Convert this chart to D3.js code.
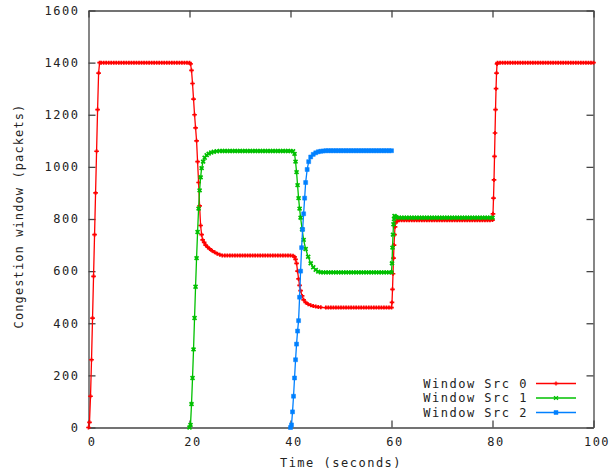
<!DOCTYPE html>
<html>
<head>
<meta charset="utf-8">
<script src="https://cdn.jsdelivr.net/npm/d3@7"></script>
<style>
  body { margin: 0; background: #fff; }
  svg { display: block; }
</style>
</head>
<body>
<svg id="chart"></svg>
<script>
var w = 616;
var h = 474;

var xTicks = [0, 20, 40, 60, 80, 100];
var yTicks = [0, 200, 400, 600, 800, 1000, 1200, 1400, 1600];
var seriesNames = ['Window Src 0', 'Window Src 1', 'Window Src 2'];
var colors = ['#ff0000', '#00c000', '#0080ff'];

// [time (s), congestion window (packets)]
var src0 = [
  [0,0],[0.2,20],[0.4,120],[0.6,260],[0.8,420],[1.0,580],[1.2,740],[1.4,900],[1.6,1060],[1.8,1220],[2.0,1360],[2.2,1400],
  [2.5,1400],[3,1400],[3.5,1400],[4,1400],[4.5,1400],[5,1400],[5.5,1400],[6,1400],[6.5,1400],[7,1400],
  [7.5,1400],[8,1400],[8.5,1400],[9,1400],[9.5,1400],[10,1400],[10.5,1400],[11,1400],[11.5,1400],[12,1400],
  [12.5,1400],[13,1400],[13.5,1400],[14,1400],[14.5,1400],[15,1400],[15.5,1400],[16,1400],[16.5,1400],[17,1400],
  [17.5,1400],[18,1400],[18.5,1400],[19,1400],[19.5,1400],[20,1400],
  [20.2,1395],[20.4,1370],[20.6,1320],[20.8,1260],[21.0,1200],[21.2,1150],[21.4,1100],[21.6,1020],[21.8,940],[22.0,850],
  [22.2,775],[22.4,740],[22.6,720],[22.9,710],[23.2,700],[23.6,692],[24.0,685],[24.5,678],[25.0,672],[25.5,667],[26.0,663],[26.5,660],
  [27,660],[27.5,660],[28,660],[28.5,660],[29,660],[29.5,660],[30,660],[30.5,660],[31,660],[31.5,660],
  [32,660],[32.5,660],[33,660],[33.5,660],[34,660],[34.5,660],[35,660],[35.5,660],[36,660],[36.5,660],
  [37,660],[37.5,660],[38,660],[38.5,660],[39,660],[39.5,660],[40,660],[40.5,659],
  [40.8,655],[41.0,645],[41.2,630],[41.4,600],[41.6,570],[41.8,545],[42.0,525],[42.3,505],[42.6,490],[43,480],
  [43.5,473],[44,469],[44.5,466],[45,464],[45.5,462],[46,461],[47,460],
  [47.5,460],[48,460],[48.5,460],[49,460],[49.5,460],[50,460],[50.5,460],[51,460],[51.5,460],[52,460],
  [52.5,460],[53,460],[53.5,460],[54,460],[54.5,460],[55,460],[55.5,460],[56,460],[56.5,460],[57,460],
  [57.5,460],[58,460],[58.5,460],[59,460],[59.5,460],[60,460],
  [60.1,480],[60.2,530],[60.3,590],[60.4,650],[60.5,700],[60.6,740],[60.7,770],[60.8,785],[61.0,792],[61.3,795],
  [61.5,795],[62,795],[62.5,795],[63,795],[63.5,795],[64,795],[64.5,795],[65,795],[65.5,795],[66,795],
  [66.5,795],[67,795],[67.5,795],[68,795],[68.5,795],[69,795],[69.5,795],[70,795],[70.5,795],[71,795],
  [71.5,795],[72,795],[72.5,795],[73,795],[73.5,795],[74,795],[74.5,795],[75,795],[75.5,795],[76,795],
  [76.5,795],[77,795],[77.5,795],[78,795],[78.5,795],[79,795],[79.5,795],[80,796],
  [80.1,820],[80.2,880],[80.3,950],[80.4,1040],[80.5,1130],[80.6,1220],[80.7,1300],[80.8,1360],[80.9,1395],[81.0,1400],
  [81.5,1400],[82,1400],[82.5,1400],[83,1400],[83.5,1400],[84,1400],[84.5,1400],[85,1400],[85.5,1400],[86,1400],
  [86.5,1400],[87,1400],[87.5,1400],[88,1400],[88.5,1400],[89,1400],[89.5,1400],[90,1400],[90.5,1400],[91,1400],
  [91.5,1400],[92,1400],[92.5,1400],[93,1400],[93.5,1400],[94,1400],[94.5,1400],[95,1400],[95.5,1400],[96,1400],
  [96.5,1400],[97,1400],[97.5,1400],[98,1400],[98.5,1400],[99,1400],[99.5,1400],[100,1400]
];

var src1 = [
  [20,0],[20.2,10],[20.4,90],[20.6,190],[20.8,300],[21.0,420],[21.2,540],[21.4,650],[21.6,750],[21.8,840],
  [22.0,910],[22.2,960],[22.4,995],[22.7,1020],[23.0,1035],[23.4,1045],[23.8,1051],[24.3,1055],[24.8,1058],[25.4,1060],[26.0,1061],
  [26.5,1061],[27,1061],[27.5,1061],[28,1061],[28.5,1061],[29,1061],[29.5,1061],[30,1061],[30.5,1061],[31,1061],
  [31.5,1061],[32,1061],[32.5,1061],[33,1061],[33.5,1061],[34,1061],[34.5,1061],[35,1061],[35.5,1061],[36,1061],
  [36.5,1061],[37,1061],[37.5,1061],[38,1061],[38.5,1061],[39,1061],[39.5,1061],[40,1061],[40.5,1060],
  [40.8,1050],[41.0,1020],[41.2,980],[41.4,930],[41.6,880],[41.8,840],[42.0,805],[42.3,760],[42.6,720],[43.0,685],
  [43.5,655],[44.0,630],[44.5,615],[45.0,605],[45.5,598],[46.0,595],
  [46.5,595],[47,595],[47.5,595],[48,595],[48.5,595],[49,595],[49.5,595],[50,595],[50.5,595],[51,595],
  [51.5,595],[52,595],[52.5,595],[53,595],[53.5,595],[54,595],[54.5,595],[55,595],[55.5,595],[56,595],
  [56.5,595],[57,595],[57.5,595],[58,595],[58.5,595],[59,595],[59.5,595],[60,595],
  [60.1,630],[60.2,690],[60.3,740],[60.4,780],[60.5,800],[60.6,812],[60.8,808],[61.0,806],
  [61.5,805],[62,805],[62.5,805],[63,805],[63.5,805],[64,805],[64.5,805],[65,805],[65.5,805],[66,805],
  [66.5,805],[67,805],[67.5,805],[68,805],[68.5,805],[69,805],[69.5,805],[70,805],[70.5,805],[71,805],
  [71.5,805],[72,805],[72.5,805],[73,805],[73.5,805],[74,805],[74.5,805],[75,805],[75.5,805],[76,805],
  [76.5,805],[77,805],[77.5,805],[78,805],[78.5,805],[79,805],[79.5,805],[80,805]
];

var src2 = [
  [40,0],[40.2,10],[40.4,60],[40.6,120],[40.8,190],[41.0,260],[41.2,320],[41.4,370],[41.6,410],[41.8,500],
  [42.0,600],[42.2,690],[42.4,760],[42.6,820],[42.8,880],[43.0,940],[43.3,990],[43.6,1020],[44.0,1038],[44.5,1048],
  [45.0,1054],[45.5,1058],[46.0,1060],[46.5,1061],[47.0,1062],
  [47.5,1062],[48,1062],[48.5,1062],[49,1062],[49.5,1062],[50,1062],[50.5,1062],[51,1062],[51.5,1062],[52,1062],
  [52.5,1062],[53,1062],[53.5,1062],[54,1062],[54.5,1062],[55,1062],[55.5,1062],[56,1062],[56.5,1062],[57,1062],
  [57.5,1062],[58,1062],[58.5,1062],[59,1062],[59.5,1062],[60,1062]
];

var series = [src0, src1, src2];

var plotL = 88.5, plotR = 593.5, plotT = 10.5, plotB = 427.5;
var font = "'DejaVu Sans Mono', monospace";
var ink = '#222';

var x = d3.scaleLinear().domain([0, 100]).range([plotL, plotR]);
var y = d3.scaleLinear().domain([0, 1600]).range([plotB, plotT]);

var svg = d3.select('#chart').attr('width', w).attr('height', h);

// Axes (ticks inward on all sides, gnuplot style)
function styleAxis(g) {
  g.selectAll('path.domain').attr('stroke', '#444').attr('stroke-width', 1.3);
  g.selectAll('.tick line').attr('stroke', '#444').attr('stroke-width', 1.3);
  g.selectAll('.tick text')
    .attr('fill', ink)
    .style('font-family', font)
    .style('font-size', '12px')
    .style('letter-spacing', '1.5px');
}

svg.append('g')
  .attr('transform', 'translate(0,' + plotB + ')')
  .call(d3.axisBottom(x).tickValues(xTicks).tickSize(-7).tickSizeOuter(0).tickPadding(10))
  .call(styleAxis)
  .selectAll('.tick text').attr('dx', 3);

svg.append('g')
  .attr('transform', 'translate(0,' + plotT + ')')
  .call(d3.axisTop(x).tickValues(xTicks).tickSize(-7).tickSizeOuter(0).tickFormat(''))
  .call(styleAxis);

svg.append('g')
  .attr('transform', 'translate(' + plotL + ',0)')
  .call(d3.axisLeft(y).tickValues(yTicks).tickSize(-7).tickSizeOuter(0).tickPadding(9).tickFormat(d3.format('d')))
  .call(styleAxis);

svg.append('g')
  .attr('transform', 'translate(' + plotR + ',0)')
  .call(d3.axisRight(y).tickValues(yTicks).tickSize(-7).tickSizeOuter(0).tickFormat(''))
  .call(styleAxis);

// Axis titles
svg.append('text')
  .attr('x', 341).attr('y', 467)
  .attr('text-anchor', 'middle')
  .attr('fill', ink)
  .style('font-family', font).style('font-size', '12px').style('letter-spacing', '1.5px')
  .text('Time (seconds)');

svg.append('text')
  .attr('transform', 'translate(23,' + 216 + ') rotate(-90)')
  .attr('text-anchor', 'middle')
  .attr('fill', ink)
  .style('font-family', font).style('font-size', '12px').style('letter-spacing', '1.1px')
  .text('Congestion window (packets)');

// Point symbols
var symbols = [
  'M-2.3,0H2.3M0,-2V2',
  'M-2,-1.8L2,1.8M-2,1.8L2,-1.8',
  'M-2,-2H2V2H-2Z'
];

var line = d3.line()
  .x(function (d) { return x(d[0]); })
  .y(function (d) { return y(d[1]); });

var plot = svg.append('g');

series.forEach(function (data, i) {
  var g = plot.append('g');
  g.append('path')
    .datum(data)
    .attr('d', line)
    .attr('fill', 'none')
    .attr('stroke', colors[i])
    .attr('stroke-width', 1.3);
  g.selectAll('path.pt')
    .data(data)
    .enter()
    .append('path')
    .attr('class', 'pt')
    .attr('transform', function (d) { return 'translate(' + x(d[0]) + ',' + y(d[1]) + ')'; })
    .attr('d', symbols[i])
    .attr('fill', i === 2 ? colors[i] : 'none')
    .attr('stroke', colors[i])
    .attr('stroke-width', i === 2 ? 0.5 : 1.7);
});

// Legend
var legend = svg.append('g');
seriesNames.forEach(function (name, i) {
  var ly = 383.5 + i * 14.5;
  legend.append('text')
    .attr('x', 528).attr('y', ly).attr('dy', '0.35em')
    .attr('text-anchor', 'end')
    .attr('fill', ink)
    .style('font-family', font).style('font-size', '12px').style('letter-spacing', '1.5px')
    .text(name);
  legend.append('line')
    .attr('x1', 536).attr('x2', 576).attr('y1', ly).attr('y2', ly)
    .attr('stroke', colors[i]).attr('stroke-width', 1.3);
  legend.append('path')
    .attr('transform', 'translate(556,' + ly + ')')
    .attr('d', symbols[i])
    .attr('fill', i === 2 ? colors[i] : 'none')
    .attr('stroke', colors[i])
    .attr('stroke-width', i === 2 ? 0.5 : 1.3);
});
</script>
</body>
</html>
